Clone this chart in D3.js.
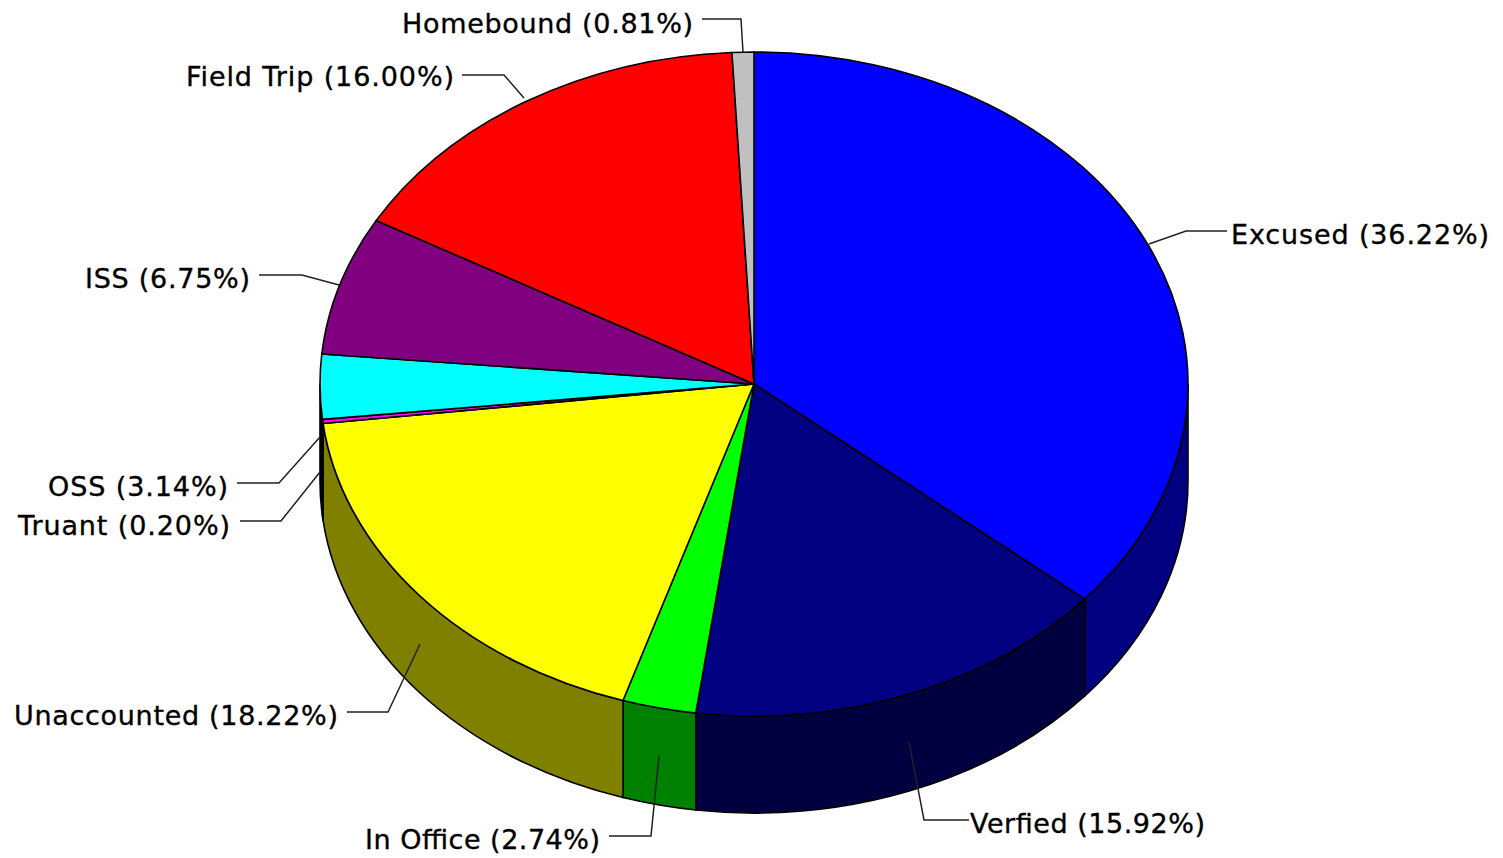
<!DOCTYPE html>
<html><head><meta charset="utf-8">
<script src="https://cdn.jsdelivr.net/npm/d3@7"></script>
<style>html,body{margin:0;padding:0;background:#fff}svg{display:block}
text{font-family:"DejaVu Sans",Verdana,sans-serif;font-size:27px;fill:#000;stroke:#000;stroke-width:.35px}</style></head>
<body><svg id="c" width="1503" height="858"></svg>
<script>
const categories=["Excused","Verfied","In Office","Unaccounted","Truant","OSS","ISS","Field Trip","Homebound"];
const values=[36.22,15.92,2.74,18.22,0.20,3.14,6.75,16.00,0.81];
const topColors=["#0000ff","#000080","#00ff00","#ffff00","#ff00ff","#00ffff","#800080","#ff0000","#c0c0c0"];
const sideColors=["#000080","#000040","#008000","#808000","#000000","#000000","#400040","#800000","#808080"];
const labelAnchors=[[1227,231,1186,231,1149,244],[969,820,924,820,909,742],[609,836,651,836,659,756],[347,712,388,712,420,644],[240,521,281,521,320,472],[237,483,279,483,320,437],[259,275,302,275,339,285],[462,75,504,75,524,98],[702,19,741,19,743,52]];
const labelText=[[1231,"start",236,258],[1205,"end",825,235],[600,"end",841,235],[338,"end",717,324],[230,"end",527,212],[228,"end",488,180],[250,"end",280,165],[454,"end",78,268],[693,"end",25,291]];
const cx=754,cy=384,rx=434,ry=332,depth=97;
const svg=d3.select("#c");
const x=d3.scaleLinear().domain([-1,1]).range([cx-rx,cx+rx]);
const y=d3.scaleLinear().domain([-1,1]).range([cy-ry,cy+ry]);
const slices=d3.pie().sort(null).value(d=>d).startAngle(0).endAngle(2*Math.PI)(values);
const px=a=>x(Math.sin(a)),py=a=>y(-Math.cos(a));
const arcD=(a0,a1)=>`A${rx},${ry} 0 ${a1-a0>Math.PI?1:0} 1 ${px(a1)},${py(a1)}`;
const H=Math.PI/2,TH=3*Math.PI/2;
slices.forEach((s,i)=>{
  const a0=Math.max(s.startAngle,H),a1=Math.min(s.endAngle,TH);
  if(a1<=a0) return;
  const d=`M${px(a0)},${py(a0)}${arcD(a0,a1)}L${px(a1)},${py(a1)+depth}A${rx},${ry} 0 0 0 ${px(a0)},${py(a0)+depth}Z`;
  svg.append("path").attr("d",d).attr("fill",sideColors[i]).attr("stroke","#000").attr("stroke-width",1.6);
});
slices.forEach((s,i)=>{
  const d=`M${cx},${cy}L${px(s.startAngle)},${py(s.startAngle)}${arcD(s.startAngle,s.endAngle)}Z`;
  svg.append("path").attr("d",d).attr("fill",topColors[i]).attr("stroke","#000").attr("stroke-width",1.6).attr("stroke-linejoin","round");
});
categories.forEach((c,i)=>{
  const p=labelAnchors[i];
  svg.append("path").attr("d",`M${p[0]},${p[1]}L${p[2]},${p[3]}L${p[4]},${p[5]}`).attr("fill","none").attr("stroke","#222").attr("stroke-width",1.5);
  const t=labelText[i];
  svg.append("text").attr("x",t[0]).attr("y",t[2]).attr("text-anchor",t[1]).attr("dominant-baseline","middle")
    .attr("textLength",t[3]).attr("lengthAdjust","spacing")
    .text(`${c} (${values[i].toFixed(2)}%)`);
});
</script></body></html>
